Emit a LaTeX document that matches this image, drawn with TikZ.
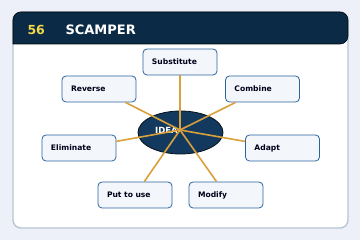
\documentclass[tikz,border=0pt]{standalone}
\usepackage{fontspec}
\setsansfont{DejaVu Sans}
\usepackage{tikz}
\usetikzlibrary{shapes.geometric,positioning}
\definecolor{pagebg}{HTML}{EDF0F8}
\definecolor{cardline}{HTML}{B8C6D4}
\definecolor{headnavy}{HTML}{0B2A45}
\definecolor{numyellow}{HTML}{F2D84A}
\definecolor{spoke}{HTML}{D9A03C}
\definecolor{boxline}{HTML}{2A64A0}
\definecolor{boxfill}{HTML}{F3F6FA}
\definecolor{hubfill}{HTML}{133A5E}
\newcommand{\stepnode}[3]{\node[stepbox] (#1) at (#2) {#3};}

\begin{document}
\begin{tikzpicture}[x=1pt,y=-1pt,font=\sffamily\bfseries,
  stepbox/.style={draw=boxline,fill=boxfill,line width=0.8pt,rounded corners=4pt,
    minimum height=26pt,text width=56pt,inner xsep=9pt,inner ysep=0pt,align=left,
    font=\sffamily\bfseries\fontsize{7.6}{9}\selectfont,text=black!90!blue},
  spokeline/.style={spoke,line width=1.6pt}]
\useasboundingbox[fill=pagebg] (0,0) rectangle (360,240);
\draw[cardline,line width=1.4pt,fill=white,rounded corners=8pt] (13,12) rectangle (348,228);
\draw[black!80!headnavy,fill=headnavy,line width=0.6pt,rounded corners=8pt]
  (13,44) -- (13,12) -- (348,12) -- (348,44) [sharp corners]-- cycle;
\node[numyellow,anchor=west,font=\sffamily\bfseries\fontsize{12.5}{14}\selectfont] (num) at (24,30) {56};
\node[white,anchor=west,font=\sffamily\bfseries\fontsize{13}{15}\selectfont] (title) at (62,30) {SCAMPER};
\node[ellipse,draw=black!70!hubfill,fill=hubfill,line width=0.8pt,minimum width=85pt,minimum height=43pt] (idea) at (180.5,132.5) {};
\node[white,anchor=west,inner sep=0pt,font=\sffamily\bfseries\fontsize{8.5}{10}\selectfont] (idealabel) at (155,130.5) {IDEA};
\coordinate (hub) at (180,130);
\stepnode{sub}{180,62}{Substitute}
\stepnode{rev}{99,89}{Reverse}
\stepnode{com}{262.5,89}{Combine}
\stepnode{eli}{79,148}{Eliminate}
\stepnode{ada}{282.5,148}{Adapt}
\stepnode{put}{135,195}{Put to use}
\stepnode{mod}{226,195}{Modify}
\foreach \n in {sub,rev,com,eli,ada,put,mod}
  \draw[spokeline] (hub) -- (\n);
\end{tikzpicture}
\end{document}
